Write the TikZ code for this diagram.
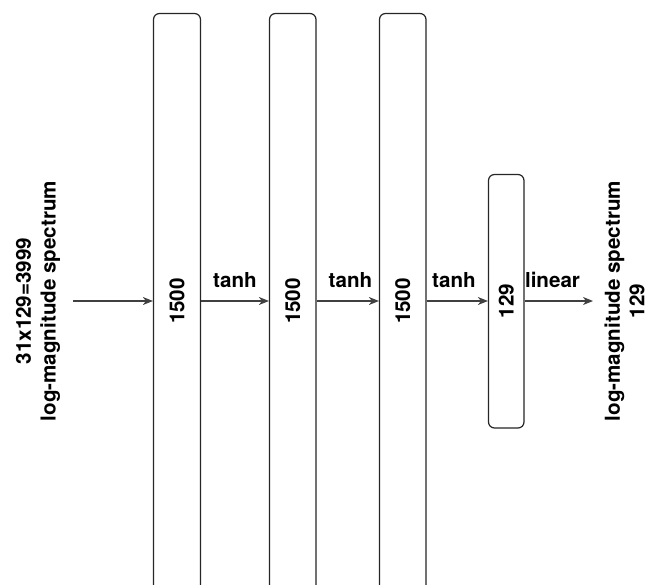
\documentclass[tikz,border=0pt]{standalone}
\usepackage{fontspec}
\setmainfont{TeX Gyre Heros}
\usetikzlibrary{arrows.meta}
\begin{document}
\begin{tikzpicture}[x=1pt,y=-1pt,
  layer/.style={draw=black!85,line width=1.2pt,rounded corners=6pt,inner sep=0pt,fill=white},
  lbl/.style={font=\fontsize{20.6}{24.6}\selectfont\bfseries,inner sep=0pt},
  rlbl/.style={lbl,rotate=90},
  conn/.style={draw=black!75,line width=1.2pt,-{Stealth[length=10pt,width=8pt,inset=3pt]}}]
\useasboundingbox (0,0) rectangle (648,584);
\coordinate (in) at (73,301);
\coordinate (out) at (593,301);
\node[layer,minimum width=47pt,minimum height=620pt] (b1) at (177,323.5) {};
\node[layer,minimum width=46.5pt,minimum height=620pt] (b2) at (292.75,323.5) {};
\node[layer,minimum width=46.5pt,minimum height=620pt] (b3) at (402.75,323.5) {};
\node[layer,minimum width=35.5pt,minimum height=253.5pt] (b4) at (506.25,301.25) {};
\node[rlbl] (t1) at (b1.center |- in) {1500};
\node[rlbl] (t2) at (b2.center |- in) {1500};
\node[rlbl] (t3) at (b3.center |- in) {1500};
\node[rlbl] (t4) at (b4.center |- in) {129};
\draw[conn] (in) -- (b1.west |- in);
\draw[conn] (b1.east |- in) -- (b2.west |- in);
\draw[conn] (b2.east |- in) -- (b3.west |- in);
\draw[conn] (b3.east |- in) -- (b4.west |- in);
\draw[conn] (b4.east |- in) -- (out);
\node[lbl,anchor=base] (a1) at (235,287) {tanh};
\node[lbl,anchor=base] (a2) at (350.5,287) {tanh};
\node[lbl,anchor=base] (a3) at (454,287) {tanh};
\node[lbl,anchor=base] (a4) at (552.5,287) {linear};
\node[rlbl,align=center] (inl) at (38,301) {31x129=3999\\log-magnitude spectrum};
\node[rlbl,align=center] (outl) at (624.5,301) {log-magnitude spectrum\\129};
\end{tikzpicture}
\end{document}
